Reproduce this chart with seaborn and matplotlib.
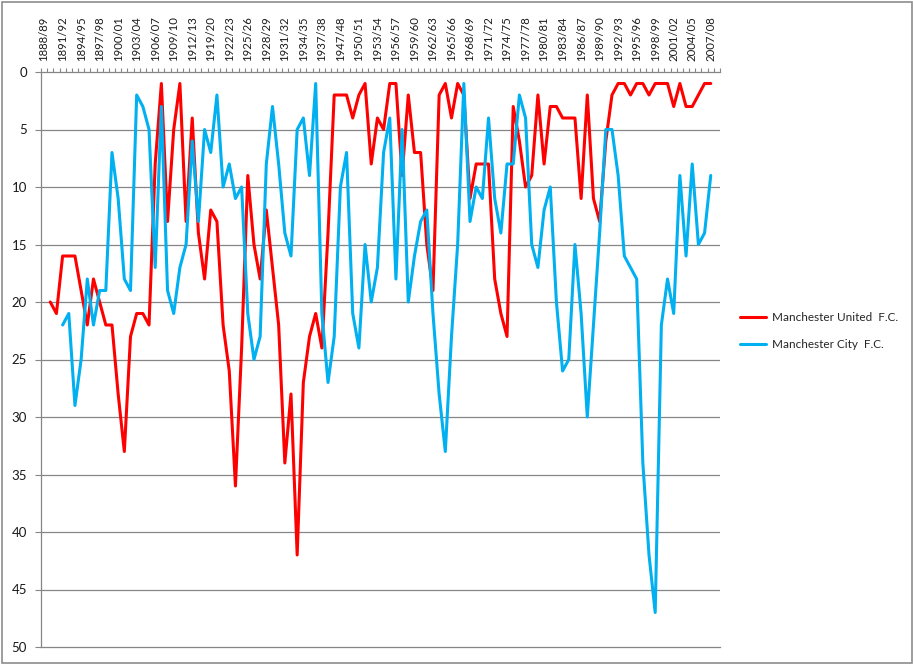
import numpy as np
import pandas as pd
import matplotlib
matplotlib.use("Agg")
import matplotlib.pyplot as plt
from matplotlib.patches import Rectangle
from matplotlib.ticker import FixedLocator
import seaborn as sns

# Seasons (league seasons only; war years skipped)
start_years = list(range(1888, 1915)) + list(range(1919, 1939)) + list(range(1946, 2009))
seasons = [f"{y}/{(y + 1) % 100:02d}" for y in start_years]

nan = np.nan
united = [nan, 20, 21, 16, 16, 16, 19, 22, 18, 20,
          22, 22, 28, 33, 23, 21, 21, 22, 8, 1,
          13, 5, 1, 13, 4, 14, 18, 12, 13, 22,
          26, 36, 24, 9, 15, 18, 12, 17, 22, 34,
          28, 42, 27, 23, 21, 24, 14, 2, 2, 2,
          4, 2, 1, 8, 4, 5, 1, 1, 9, 2,
          7, 7, 15, 19, 2, 1, 4, 1, 2, 11,
          8, 8, 8, 18, 21, 23, 3, 6, 10, 9,
          2, 8, 3, 3, 4, 4, 4, 11, 2, 11,
          13, 6, 2, 1, 1, 2, 1, 1, 2, 1,
          1, 1, 3, 1, 3, 3, 2, 1, 1, nan]
city = [nan, nan, nan, 22, 21, 29, 25, 18, 22, 19,
        19, 7, 11, 18, 19, 2, 3, 5, 17, 3,
        19, 21, 17, 15, 6, 13, 5, 7, 2, 10,
        8, 11, 10, 21, 25, 23, 8, 3, 8, 14,
        16, 5, 4, 9, 1, 21, 27, 23, 10, 7,
        21, 24, 15, 20, 17, 7, 4, 18, 5, 20,
        16, 13, 12, 21, 28, 33, 23, 15, 1, 13,
        10, 11, 4, 11, 14, 8, 8, 2, 4, 15,
        17, 12, 10, 20, 26, 25, 15, 21, 30, 22,
        14, 5, 5, 9, 16, 17, 18, 34, 42, 47,
        22, 18, 21, 9, 16, 8, 15, 14, 9, nan]

clubs = ["Manchester United  F.C.", "Manchester City  F.C."]
colors = ["#FF0000", "#00B0F0"]

n = len(seasons)
df = pd.DataFrame({
    "idx": list(range(n)) * 2,
    "pos": united + city,
    "club": [clubs[0]] * n + [clubs[1]] * n,
}).dropna()

sns.set_theme(style="white")
plt.rcParams["font.family"] = ["Lato", "DejaVu Sans"]

fig = plt.figure(figsize=(9.13, 6.64), dpi=100)
ax = fig.add_axes([41 / 913, 1 - 647 / 664, (720 - 41) / 913, (647 - 72) / 664])

grid_c = "#868686"
for v in range(5, 50, 5):
    ax.axhline(v, color=grid_c, lw=0.9, zorder=0)

sns.lineplot(data=df, x="idx", y="pos", hue="club", palette=colors,
             hue_order=clubs, linewidth=2.2, ax=ax, legend=True, sort=True)

ax.set_xlim(-0.5, n - 0.5)
ax.set_ylim(50, 0)
ax.set_xlabel("")
ax.set_ylabel("")

ax.xaxis.tick_top()
ax.set_xticks(range(0, n, 3))
ax.set_xticklabels([seasons[i] for i in range(0, n, 3)], rotation=90,
                   fontsize=8.2, color="#1a1a1a")
ax.xaxis.set_minor_locator(FixedLocator(np.arange(-0.5, n, 1.0)))
ax.tick_params(axis="x", which="major", length=0, pad=8, top=True, bottom=False)
ax.tick_params(axis="x", which="minor", length=3, width=0.8, color=grid_c,
               direction="out", top=True, bottom=False)

ax.set_yticks(range(0, 51, 5))
ax.tick_params(axis="y", which="major", length=4, width=0.8, color=grid_c,
               direction="out", left=True, labelsize=9.5, labelcolor="#1a1a1a", pad=6)

for s in ["left", "top", "bottom"]:
    ax.spines[s].set_color(grid_c)
    ax.spines[s].set_linewidth(0.9)
ax.spines["right"].set_visible(False)

handles, labels = ax.get_legend_handles_labels()
ax.legend(handles, labels, loc="center left", bbox_to_anchor=(740 / 913, 1 - 331 / 664),
          bbox_transform=fig.transFigure, frameon=False, fontsize=8.5,
          handlelength=2.2, handletextpad=0.5, labelspacing=1.3,
          borderpad=0, borderaxespad=0)

fig.patches.append(Rectangle((1.5 / 913, 1.5 / 664), 1 - 3 / 913, 1 - 3 / 664,
                             transform=fig.transFigure, fill=False,
                             edgecolor="#8c8c8c", lw=1.2))

fig.savefig("out.png", dpi=100)
